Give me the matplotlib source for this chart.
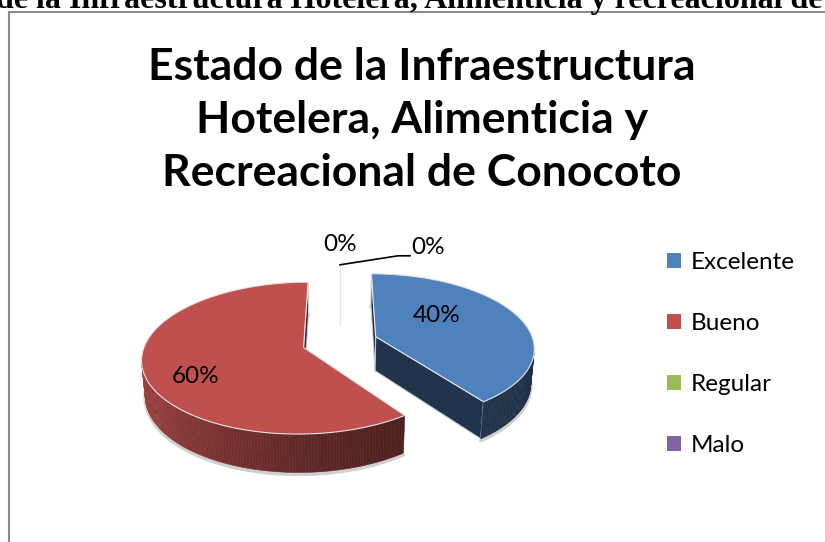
import numpy as np
import matplotlib.pyplot as plt
from matplotlib.patches import Polygon, Patch
from matplotlib.lines import Line2D

categories = ["Excelente", "Bueno", "Regular", "Malo"]
values = [40, 60, 0, 0]
pct_labels = ["40%", "60%", "0%", "0%"]
colors = ["#4F81BD", "#C0504D", "#9BBB59", "#8064A2"]
label_r = [0.45, 0.7]
label_nudge = [(-4, 11), (3, -12)]  # px

title = "Estado de la Infraestructura\nHotelera, Alimenticia y\nRecreacional de Conocoto"
page_text = "de la Infraestructura Hotelera, Alimenticia y recreacional de"

# 3d view of the pie
TILT = np.radians(27.5)
DIST = 6.4
HEIGHT = 0.25
EXPLODE = 0.24
SCALE = 158  # px per radius
CX, CY = 340, 342  # pie centre in px

plt.rcParams['font.family'] = ['Lato', 'DejaVu Sans']

cam_y = -DIST * np.cos(TILT)


def project(x, y, z):
    depth = DIST + y * np.cos(TILT) - z * np.sin(TILT)
    u = x * DIST / depth
    w = (y * np.sin(TILT) + z * np.cos(TILT)) * DIST / depth
    return u, w


def depth_of(x, y, z):
    return DIST + y * np.cos(TILT) - z * np.sin(TILT)


def facing(nx, ny, x, y):
    return nx * (0 - x) + ny * (cam_y - y) > 0


def shade(color, f):
    rgb = np.array(plt.matplotlib.colors.to_rgb(color))
    return tuple(np.clip(rgb * f, 0, 1))


def side_factor(t):
    return max(0.33, 0.64 - 0.23 * np.cos(t) + 0.13 * np.sin(t))


fig = plt.figure(figsize=(8.25, 5.42), dpi=100)
ax = fig.add_axes([0, 0, 1, 1])
ax.set_xlim(-CX / SCALE, (825 - CX) / SCALE)
ax.set_ylim(-(542 - CY) / SCALE, CY / SCALE)
ax.axis('off')

total = sum(values)
start = 90.0
sides = []
tops = []
slices = []
for i, v in enumerate(values):
    sweep = 360.0 * v / total
    a1, a2 = np.radians(start), np.radians(start - sweep)
    mid = (a1 + a2) / 2
    cx, cy = EXPLODE * np.cos(mid), EXPLODE * np.sin(mid)
    slices.append((cx, cy, a1, a2, mid))
    start -= sweep

    n = max(2, int(sweep) + 2)
    ts = np.linspace(a1, a2, n)
    xs, ys = cx + np.cos(ts), cy + np.sin(ts)

    if sweep > 0:
        # outer curved side
        for k in range(n - 1):
            tm = (ts[k] + ts[k + 1]) / 2
            if not facing(np.cos(tm), np.sin(tm), cx + np.cos(tm), cy + np.sin(tm)):
                continue
            pts = [project(xs[k], ys[k], 0), project(xs[k + 1], ys[k + 1], 0),
                   project(xs[k + 1], ys[k + 1], -HEIGHT), project(xs[k], ys[k], -HEIGHT)]
            d = depth_of(cx + np.cos(tm), cy + np.sin(tm), -HEIGHT / 2)
            c = shade(colors[i], side_factor(tm))
            sides.append((d, pts, c, c, 0.4))

        # radial faces
        for a, nrm in ((a1, (-np.sin(a1), np.cos(a1))), (a2, (np.sin(a2), -np.cos(a2)))):
            ex, ey = cx + np.cos(a), cy + np.sin(a)
            if not facing(nrm[0], nrm[1], (cx + ex) / 2, (cy + ey) / 2):
                continue
            pts = [project(cx, cy, 0), project(ex, ey, 0),
                   project(ex, ey, -HEIGHT), project(cx, cy, -HEIGHT)]
            d = depth_of((cx + ex) / 2, (cy + ey) / 2, -HEIGHT / 2)
            sides.append((d, pts, shade(colors[i], 0.4), '#c8cdd4', 0.8))

    top = [project(cx, cy, 0)] + [project(x, y, 0) for x, y in zip(xs, ys)]
    tops.append((depth_of(cx, cy, 0), top, colors[i]))

# soft shadow under the pie
for cx, cy, a1, a2, mid in slices[:2]:
    ts = np.linspace(a1, a2, 200)
    u, w = project(cx + np.cos(ts), cy + np.sin(ts), -HEIGHT)
    ax.plot(u, w - 0.012, color='#d0d0d0', lw=2.5, zorder=1, solid_capstyle='round')

for d, pts, fc, ec, lw in sorted(sides, key=lambda s: -s[0]):
    ax.add_patch(Polygon(pts, closed=True, facecolor=fc, edgecolor=ec, lw=lw, zorder=2))
for d, pts, fc in sorted(tops, key=lambda s: -s[0]):
    ax.add_patch(Polygon(pts, closed=True, facecolor=fc, edgecolor='#e4e4e4', lw=0.8, zorder=3))

# data labels
for i in range(2):
    cx, cy, a1, a2, mid = slices[i]
    lx, ly = project(cx + label_r[i] * np.cos(mid), cy + label_r[i] * np.sin(mid), 0)
    ax.text(lx + label_nudge[i][0] / SCALE, ly + label_nudge[i][1] / SCALE, pct_labels[i],
            ha='center', va='center', fontsize=17.5, zorder=5)

# zero slices: labels at the outer point
cx, cy, a1, a2, mid = slices[2]
px, py = project(cx + np.cos(mid), cy + np.sin(mid), 0)
ax.text(px, py + 10 / SCALE, pct_labels[2], ha='center', va='bottom', fontsize=17.5, zorder=5)
cx, cy, a1, a2, mid = slices[3]
px, py = project(cx + np.cos(mid), cy + np.sin(mid), 0)
kx, ky = px + 58 / SCALE, py + 9 / SCALE
ax.plot([px, kx, kx + 12 / SCALE], [py, ky, ky], color='black', lw=1.2, zorder=5)
ax.text(kx + 13 / SCALE, ky - 2 / SCALE, pct_labels[3], ha='left', va='bottom', fontsize=17.5, zorder=5)

# legend
handles = [Patch(facecolor=c, edgecolor='none') for c in colors]
fig.legend(handles, categories, loc='center left', bbox_to_anchor=(645 / 825, 1 - 354 / 542),
           frameon=False, fontsize=17.5, handlelength=0.6, handleheight=0.6,
           handletextpad=0.4, labelspacing=1.64)

# title
fig.text(422 / 825, 1 - 120 / 542, title, ha='center', va='center', fontsize=32,
         fontweight='bold', linespacing=1.38)

# text of the page above the chart, cut off
fig.text(822 / 825, 1 - 8 / 542, page_text, ha='right', va='baseline', fontsize=23,
         fontweight='bold', family='Liberation Serif')

# chart frame
fig.add_artist(Line2D([9 / 825, 9 / 825], [0, 1 - 12 / 542], color='#8c8c8c', lw=1.5))
fig.add_artist(Line2D([9 / 825, 1], [1 - 12 / 542, 1 - 12 / 542], color='#8c8c8c', lw=1.5))

fig.savefig('out.png', dpi=100)
